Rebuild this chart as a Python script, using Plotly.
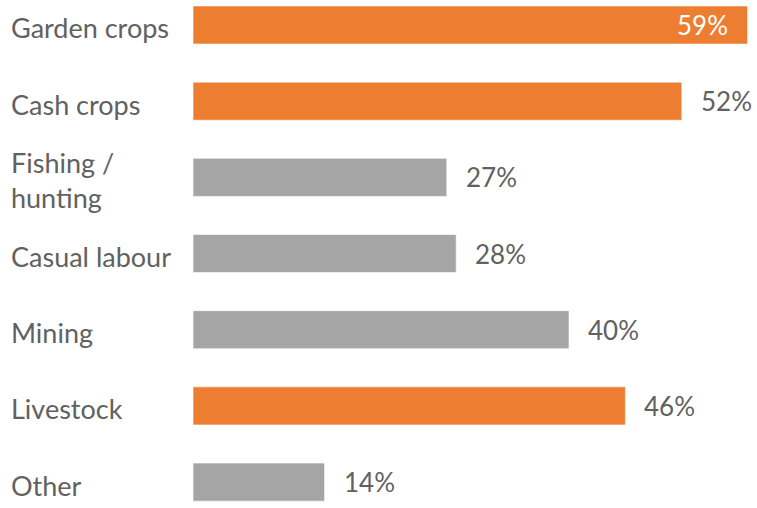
import plotly.graph_objects as go

categories = ["Garden crops", "Cash crops", "Fishing /<br>hunting", "Casual labour",
              "Mining", "Livestock", "Other"]
values = [59, 52, 27, 28, 40, 46, 14]
highlight = [True, True, False, False, False, True, False]
labels = [f"{v}%" for v in values]

ORANGE = "#ED7D31"
GRAY = "#A5A5A5"
TEXT = "#616161"
FONT = "Lato"
FS = 26

colors = [ORANGE if h else GRAY for h in highlight]
ypos = list(range(len(categories)))

fig = go.Figure(go.Bar(
    x=values, y=ypos, orientation="h",
    marker=dict(color=colors, line=dict(color="rgba(255,255,255,0.6)", width=1)),
    width=0.5, hoverinfo="skip",
))

annotations = []
for i, (cat, v, lab) in enumerate(zip(categories, values, labels)):
    annotations.append(dict(
        xref="paper", yref="y", x=-184 / 564, y=i, text=cat, showarrow=False,
        xanchor="left", yanchor="middle", align="left", yshift=-3,
        font=dict(family=FONT, size=27, color=TEXT),
    ))
    if i == 0:
        annotations.append(dict(
            xref="x", yref="y", x=v, y=i, text=lab, showarrow=False,
            xanchor="right", yanchor="middle", xshift=-18,
            font=dict(family=FONT, size=FS, color="white"),
        ))
    else:
        annotations.append(dict(
            xref="x", yref="y", x=v, y=i, text=lab, showarrow=False,
            xanchor="left", yanchor="middle", xshift=17,
            font=dict(family=FONT, size=FS, color=TEXT),
        ))

fig.update_layout(
    width=757, height=508,
    margin=dict(l=193, r=0, t=0, b=0),
    paper_bgcolor="white", plot_bgcolor="white",
    showlegend=False,
    xaxis=dict(range=[0, 60], visible=False, fixedrange=True),
    yaxis=dict(range=[6.34, -0.328], visible=False, fixedrange=True),
    annotations=annotations,
)

fig.write_html("out.html", config={"displayModeBar": False})
